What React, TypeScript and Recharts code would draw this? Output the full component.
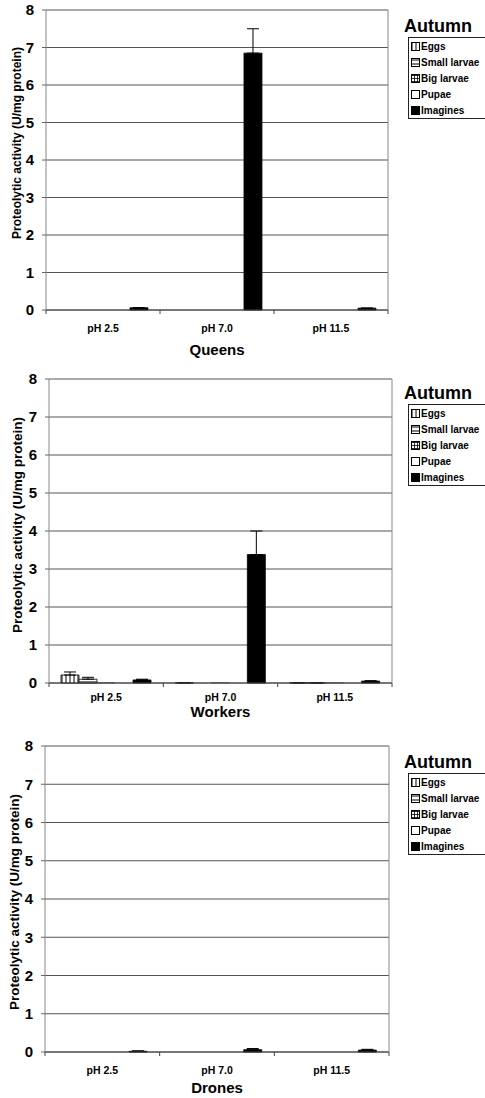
import React from 'react';
import { BarChart, Bar, XAxis, YAxis, CartesianGrid, ErrorBar, Legend } from 'recharts';

const categories = ['pH 2.5', 'pH 7.0', 'pH 11.5'];
const seriesNames = ['Eggs', 'Small larvae', 'Big larvae', 'Pupae', 'Imagines'];
const yTicks = [0, 1, 2, 3, 4, 5, 6, 7, 8];
const legendTitle = 'Autumn';

// Queens
const queensEggs = [0, 0, 0];
const queensSmall = [0, 0, 0];
const queensBig = [0, 0, 0];
const queensPupae = [0, 0, 0];
const queensImagines = [0.06, 6.85, 0.05];
const queensImaginesErr = [0, 0.65, 0];

// Workers
const workersEggs = [0.21, 0.005, 0.005];
const workersSmall = [0.1, 0, 0.003];
const workersBig = [0.01, 0.01, 0.005];
const workersPupae = [0, 0, 0];
const workersImagines = [0.08, 3.38, 0.05];
const workersEggsErr = [0.08, 0, 0];
const workersSmallErr = [0.05, 0, 0];
const workersImaginesErr = [0.02, 0.62, 0.01];

// Drones
const dronesEggs = [0, 0, 0];
const dronesSmall = [0, 0, 0];
const dronesBig = [0, 0, 0];
const dronesPupae = [0, 0, 0];
const dronesImagines = [0.02, 0.06, 0.05];
const dronesImaginesErr = [0.01, 0.03, 0.02];

const FONT = '"Liberation Sans", Arial, Helvetica, sans-serif';
const fills = ['url(#pat-eggs)', 'url(#pat-small)', 'url(#pat-big)', '#ffffff', '#000000'];
const strokes = ['#000', '#000', '#666', '#000', '#000'];
const keys = ['eggs', 'small', 'big', 'pupae', 'imagines'];

function buildData(vals: number[][], errs: (number[] | null)[]) {
  return categories.map((c, i) => {
    const row: any = { cat: c };
    keys.forEach((k, s) => {
      row[k] = vals[s][i];
      const e = errs[s];
      row[k + 'Err'] = [0, e ? e[i] : 0];
    });
    return row;
  });
}

const W = 485;

type Cfg = {
  top: number; height: number; marginTop: number; plotHeight: number;
  left: number; right: number; title: string; data: any[]; errs: boolean[];
  tickDy: number; titleDy: number; yLabelSize: number; yLabelX: number; yLabelY: number;
  legendTop: number;
};

const LegendBox = () => (
  <div style={{ fontFamily: FONT, color: '#000' }}>
    <div style={{ fontSize: 18, fontWeight: 'bold', lineHeight: '21px', height: 21 }}>{legendTitle}</div>
    <div style={{ marginLeft: 4, border: '1px solid #222', borderRight: 'none', width: 80, overflow: 'hidden' }}>
      {seriesNames.map((n, i) => (
        <div key={n} style={{ display: 'flex', alignItems: 'center', height: 16, fontSize: 10, fontWeight: 'bold', whiteSpace: 'nowrap' }}>
          <svg width={11} height={9} style={{ marginLeft: 1, flex: 'none' }}>
            <rect x={1.5} y={0.5} width={8} height={8} fill={fills[i]} stroke="#000" strokeWidth={1} />
          </svg>
          <span style={{ marginLeft: 0 }}>{n}</span>
        </div>
      ))}
    </div>
  </div>
);

function Panel({ cfg }: { cfg: Cfg }) {
  const xAxisHeight = cfg.height - cfg.marginTop - cfg.plotHeight;
  const band = (cfg.right - cfg.left) / categories.length;
  const plotBottom = cfg.marginTop + cfg.plotHeight;
  const renderXTick = (p: any) => {
    const { x, y, payload, index } = p;
    return (
      <g>
        <line x1={x - band / 2} y1={y} x2={x - band / 2} y2={y + 4} stroke="#444" />
        {index === categories.length - 1 && (
          <line x1={x + band / 2} y1={y} x2={x + band / 2} y2={y + 4} stroke="#444" />
        )}
        <text x={x} y={y + cfg.tickDy} dy="0.35em" textAnchor="middle" fontFamily={FONT} fontWeight="bold" fontSize={10.5} fill="#000">
          {payload.value}
        </text>
      </g>
    );
  };
  const xTitle = () => (
    <text x={(cfg.left + cfg.right) / 2} y={plotBottom + cfg.titleDy} dy="0.35em" textAnchor="middle" fontFamily={FONT} fontWeight="bold" fontSize={15} fill="#000">
      {cfg.title}
    </text>
  );
  const yTitle = () => (
    <text x={cfg.yLabelX} y={cfg.yLabelY} dy="0.35em" textAnchor="middle" transform={`rotate(-90 ${cfg.yLabelX} ${cfg.yLabelY})`} fontFamily={FONT} fontWeight="bold" fontSize={cfg.yLabelSize} fill="#000">
      Proteolytic activity (U/mg protein)
    </text>
  );
  return (
    <div style={{ position: 'absolute', left: 0, top: cfg.top, width: W, height: cfg.height }}>
      <BarChart
        width={W}
        height={cfg.height}
        data={cfg.data}
        margin={{ top: cfg.marginTop, right: W - cfg.right - 1, bottom: 0, left: 0 }}
        barGap={0}
        barCategoryGap="10.5%"
      >
        <CartesianGrid vertical={false} stroke="#555" />
        <XAxis
          dataKey="cat"
          height={xAxisHeight}
          tickLine={false}
          tickSize={0}
          tickMargin={0}
          axisLine={{ stroke: '#444' }}
          interval={0}
          tick={renderXTick}
          label={{ content: xTitle }}
        />
        <YAxis
          width={cfg.left}
          domain={[0, 8]}
          ticks={yTicks}
          interval={0}
          tickSize={4}
          tickMargin={8}
          axisLine={{ stroke: '#888' }}
          tickLine={{ stroke: '#666' }}
          tick={{ fill: '#000', fontSize: 15, fontWeight: 'bold', fontFamily: FONT }}
          label={{ content: yTitle }}
        />
        <YAxis yAxisId="r" orientation="right" width={1} domain={[0, 8]} tick={false} tickLine={false} axisLine={{ stroke: '#888' }} />
        {keys.map((k, s) => (
          <Bar key={k} dataKey={k} name={seriesNames[s]} fill={fills[s]} stroke={strokes[s]} strokeWidth={0.8} isAnimationActive={false}>
            {cfg.errs[s] && (
              <ErrorBar dataKey={k + 'Err'} width={6} stroke="#000" strokeWidth={1} direction="y" />
            )}
          </Bar>
        ))}
        <Legend
          layout="vertical"
          align="center"
          verticalAlign="middle"
          wrapperStyle={{ left: 404, top: cfg.legendTop, width: 81, height: 'auto' }}
          content={() => <LegendBox />}
        />
      </BarChart>
    </div>
  );
}

const queensData = buildData(
  [queensEggs, queensSmall, queensBig, queensPupae, queensImagines],
  [null, null, null, null, queensImaginesErr]
);
const workersData = buildData(
  [workersEggs, workersSmall, workersBig, workersPupae, workersImagines],
  [workersEggsErr, workersSmallErr, null, null, workersImaginesErr]
);
const dronesData = buildData(
  [dronesEggs, dronesSmall, dronesBig, dronesPupae, dronesImagines],
  [null, null, null, null, dronesImaginesErr]
);

const panels: Cfg[] = [
  { top: 0, height: 368, marginTop: 10, plotHeight: 300, left: 46, right: 388, title: 'Queens', data: queensData, errs: [false, false, false, false, true], tickDy: 18, titleDy: 40, yLabelSize: 12, yLabelX: 17, yLabelY: 143, legendTop: 16 },
  { top: 368, height: 368, marginTop: 11, plotHeight: 304, left: 49, right: 392, title: 'Workers', data: workersData, errs: [true, true, false, false, true], tickDy: 14, titleDy: 29, yLabelSize: 13.5, yLabelX: 17, yLabelY: 157, legendTop: 15 },
  { top: 736, height: 362, marginTop: 10, plotHeight: 306, left: 45, right: 389, title: 'Drones', data: dronesData, errs: [false, false, false, false, true], tickDy: 18, titleDy: 36, yLabelSize: 13.5, yLabelX: 14, yLabelY: 166, legendTop: 16 },
];

export default function App() {
  return (
    <div style={{ position: 'absolute', left: 0, top: 0, width: W, height: 1098, background: '#fff', overflow: 'hidden' }}>
      <svg width={0} height={0} style={{ position: 'absolute' }}>
        <defs>
          <pattern id="pat-eggs" patternUnits="userSpaceOnUse" width={4} height={4}>
            <rect width={4} height={4} fill="#fff" />
            <line x1={2} y1={0} x2={2} y2={4} stroke="#000" strokeWidth={1} />
          </pattern>
          <pattern id="pat-small" patternUnits="userSpaceOnUse" width={4} height={4}>
            <rect width={4} height={4} fill="#fff" />
            <line x1={0} y1={2} x2={4} y2={2} stroke="#000" strokeWidth={1} />
          </pattern>
          <pattern id="pat-big" patternUnits="userSpaceOnUse" width={3} height={3}>
            <rect width={3} height={3} fill="#fff" />
            <line x1={1.5} y1={0} x2={1.5} y2={3} stroke="#000" strokeWidth={0.8} />
            <line x1={0} y1={1.5} x2={3} y2={1.5} stroke="#000" strokeWidth={0.8} />
          </pattern>
        </defs>
      </svg>
      {panels.map((p) => (
        <Panel key={p.title} cfg={p} />
      ))}
    </div>
  );
}
